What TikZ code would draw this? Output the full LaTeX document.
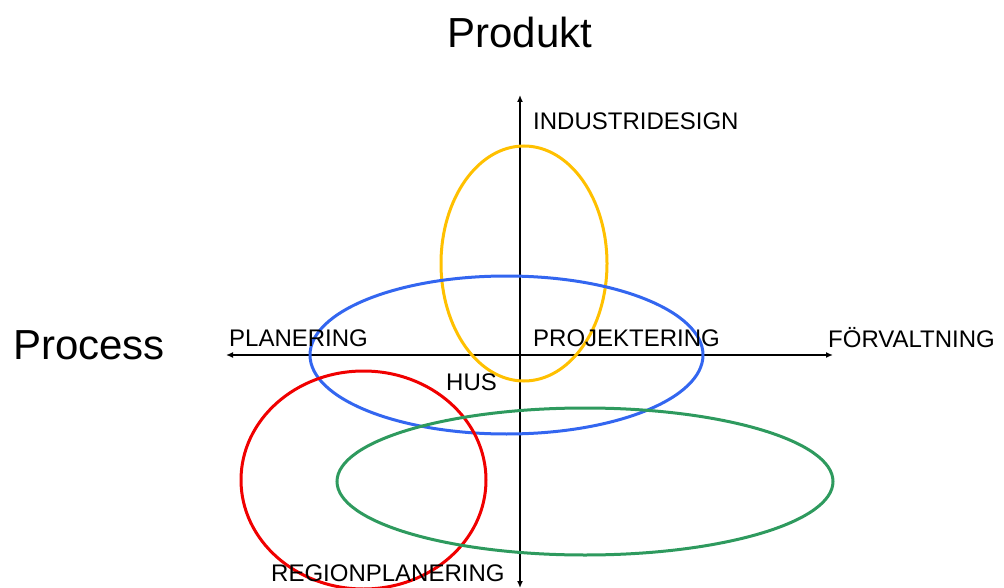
\documentclass[tikz,border=0pt]{standalone}
\usepackage{fontspec}
\setmainfont{Liberation Sans}
\usetikzlibrary{arrows,
                arrows.meta}

\tikzset{
    axislabel/.style = {anchor = west, inner sep = 0pt, font = \fontsize{24}{26}\selectfont},
    bigtitle/.style = {inner sep = 0pt, font = \fontsize{42}{46}\selectfont},
    axisline/.style = {{Latex[length=7pt,width=6pt]}-{Latex[length=7pt,width=6pt]}, line width = 1.8pt},
    ring/.style = {line width = 3pt}
}
\definecolor{ringyellow}{HTML}{FFC000}
\definecolor{ringblue}{HTML}{3366F0}
\definecolor{ringred}{HTML}{F00000}
\definecolor{ringgreen}{HTML}{2E9A5E}

\begin{document}
\begin{tikzpicture}[x = 1pt, y = -1pt]
    \useasboundingbox (0,0) rectangle (1004,588);

    % axes
    \coordinate (west) at (226,355);
    \coordinate (east) at (833,355);
    \coordinate (north) at (520,95);
    \coordinate (south) at (520,588);
    \draw[axisline] (west) -- (east);
    \draw[axisline] (south) -- (north);

    % rings
    \draw[ring, ringyellow] (524,263.5) ellipse [x radius = 83pt, y radius = 117.5pt];
    \draw[ring, ringblue] (506.5,355) ellipse [x radius = 196.5pt, y radius = 79pt];
    \draw[ring, ringred] (363.5,480) ellipse [x radius = 122.5pt, y radius = 109pt];
    \draw[ring, ringgreen] (585,481.5) ellipse [x radius = 248pt, y radius = 73.5pt];

    % labels
    \node[bigtitle] (produkt) at (520,32) {Produkt};
    \node[bigtitle] (process) at (89,345) {Process};
    \node[axislabel] (industri) at (533,121) {INDUSTRIDESIGN};
    \node[axislabel] (planering) at (229,338) {PLANERING};
    \node[axislabel] (projekt) at (533,338) {PROJEKTERING};
    \node[axislabel] (forvalt) at (828,338) {FÖRVALTNING};
    \node[axislabel] (hus) at (446,382) {HUS};
    \node[axislabel] (region) at (271,573) {REGIONPLANERING};
\end{tikzpicture}
\end{document}
